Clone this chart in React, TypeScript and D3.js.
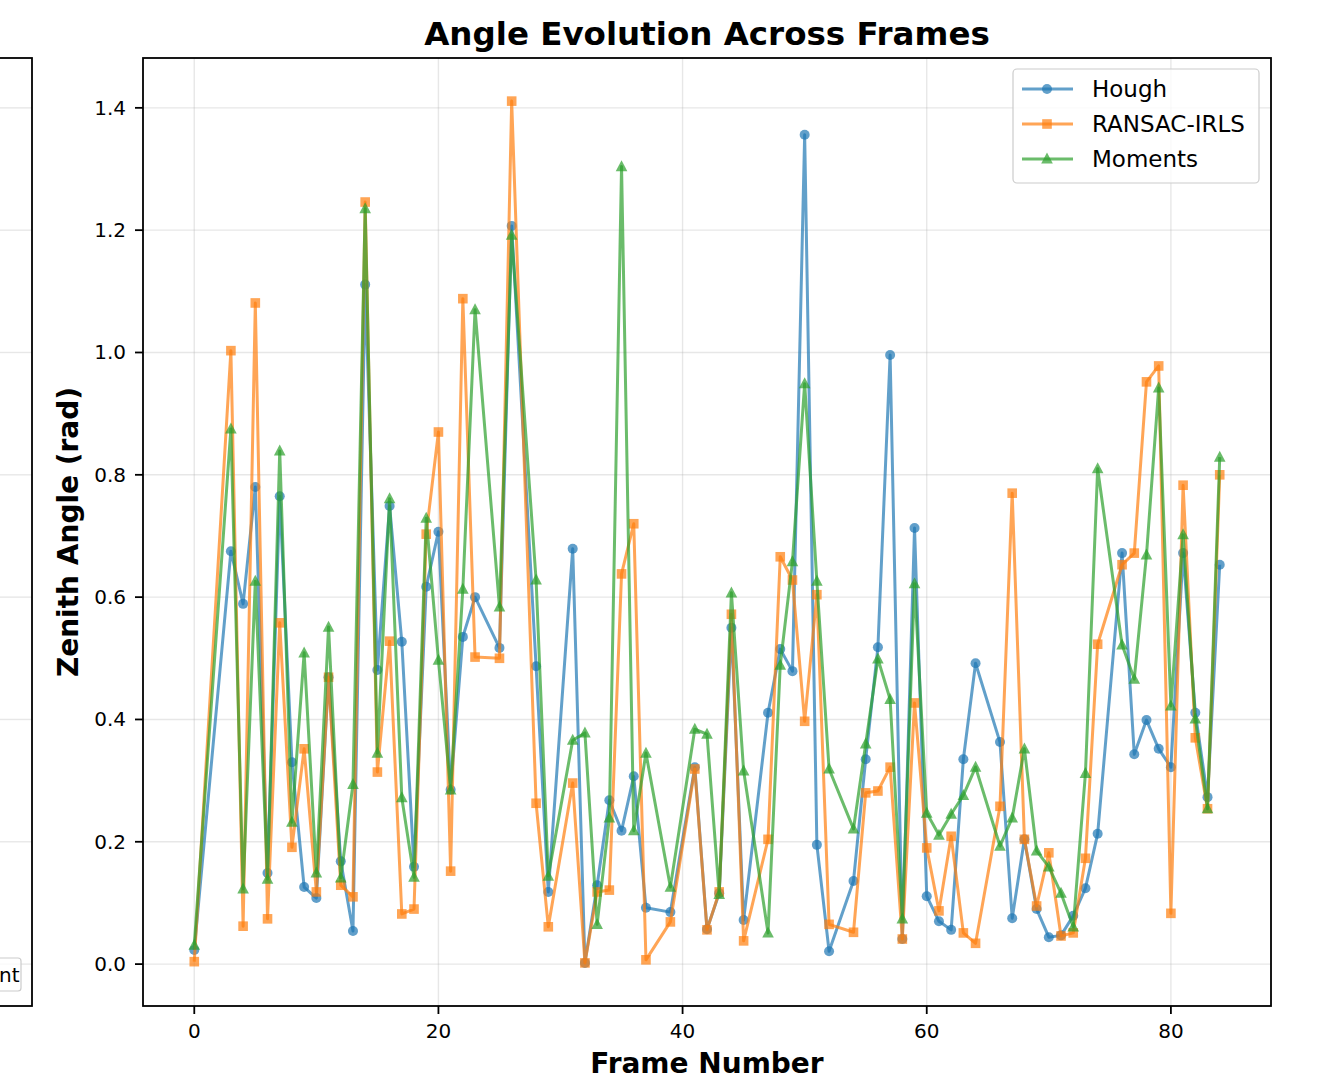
import * as d3 from 'd3'

// frames where a measurement exists
const frames = [
  0, 3, 4, 5, 6, 7, 8, 9, 10, 11, 12, 13, 14, 15, 16, 17, 18, 19, 20, 21, 22, 23, 25, 26,
  28, 29, 31, 32, 33, 34, 35, 36, 37, 39, 41, 42, 43, 44, 45, 47, 48, 49, 50, 51, 52,
  54, 55, 56, 57, 58, 59, 60, 61, 62, 63, 64, 66, 67, 68, 69, 70, 71, 72, 73, 74,
  76, 77, 78, 79, 80, 81, 82, 83, 84,
]

const hough = [
  0.023, 0.675, 0.589, 0.780, 0.149, 0.765, 0.330, 0.126, 0.108, 0.469, 0.168, 0.054, 1.111, 0.481,
  0.749, 0.527, 0.159, 0.617, 0.707, 0.285, 0.535, 0.600, 0.517, 1.207,
  0.487, 0.118, 0.679, 0.002, 0.129, 0.268, 0.218, 0.307, 0.092, 0.085, 0.322, 0.057, 0.116, 0.550,
  0.072, 0.411, 0.515, 0.479, 1.356, 0.195, 0.021,
  0.136, 0.335, 0.518, 0.996, 0.041, 0.713, 0.111, 0.070, 0.056, 0.335, 0.492, 0.363, 0.075, 0.204,
  0.090, 0.044, 0.047, 0.079, 0.124, 0.213,
  0.672, 0.343, 0.399, 0.352, 0.322, 0.672, 0.411, 0.273, 0.653,
]

const ransac = [
  0.004, 1.003, 0.062, 1.081, 0.074, 0.558, 0.191, 0.352, 0.118, 0.469, 0.129, 0.110, 1.246, 0.314,
  0.528, 0.082, 0.090, 0.703, 0.870, 0.152, 1.088, 0.502, 0.500, 1.411,
  0.263, 0.061, 0.296, 0.002, 0.118, 0.121, 0.638, 0.720, 0.007, 0.069, 0.319, 0.056, 0.118, 0.572,
  0.038, 0.204, 0.666, 0.628, 0.397, 0.604, 0.065,
  0.052, 0.280, 0.283, 0.322, 0.041, 0.427, 0.190, 0.087, 0.209, 0.051, 0.034, 0.258, 0.770, 0.204,
  0.095, 0.182, 0.046, 0.051, 0.173, 0.523,
  0.653, 0.672, 0.952, 0.978, 0.083, 0.783, 0.370, 0.254, 0.800,
]

const moments = [
  0.031, 0.875, 0.123, 0.626, 0.139, 0.839, 0.232, 0.509, 0.149, 0.551, 0.141, 0.294, 1.235, 0.345,
  0.761, 0.272, 0.142, 0.729, 0.497, 0.285, 0.613, 1.070, 0.584, 1.192,
  0.628, 0.144, 0.366, 0.378, 0.065, 0.239, 1.304, 0.218, 0.345, 0.126, 0.384, 0.376, 0.114, 0.607,
  0.316, 0.051, 0.489, 0.658, 0.949, 0.626, 0.319,
  0.221, 0.360, 0.499, 0.433, 0.074, 0.622, 0.247, 0.211, 0.245, 0.276, 0.322, 0.193, 0.239, 0.352,
  0.185, 0.159, 0.116, 0.061, 0.312, 0.810,
  0.522, 0.466, 0.669, 0.942, 0.422, 0.702, 0.401, 0.254, 0.829,
]

const xTicks = [0, 20, 40, 60, 80]
const yTicks = [0, 0.2, 0.4, 0.6, 0.8, 1.0, 1.2, 1.4]

const series = [
  { name: 'Hough', values: hough, color: '#1f77b4', marker: 'circle' },
  { name: 'RANSAC-IRLS', values: ransac, color: '#ff7f0e', marker: 'square' },
  { name: 'Moments', values: moments, color: '#2ca02c', marker: 'triangle' },
]

const W = 1317
const H = 1080
const plot = { left: 143, right: 1271, top: 58, bottom: 1006 }
const FONT = 'DejaVu Sans, sans-serif'
const GRID = '#b0b0b0'

function Marker({ type, x, y, color }: { type: string; x: number; y: number; color: string }) {
  if (type === 'circle') return <circle cx={x} cy={y} r={5} fill={color} />
  if (type === 'square') return <rect x={x - 4.8} y={y - 4.8} width={9.6} height={9.6} fill={color} />
  return <path d={`M${x},${y - 6.4}L${x + 5.8},${y + 4.6}L${x - 5.8},${y + 4.6}Z`} fill={color} />
}

export default function App() {
  const x = d3.scaleLinear().domain([-4.2, 88.2]).range([plot.left, plot.right])
  const y = d3.scaleLinear().domain([-0.0685, 1.4815]).range([plot.bottom, plot.top])
  const line = d3.line<number>().x((_, i) => x(frames[i])).y(d => y(d))

  return (
    <svg width={W} height={H} style={{ position: 'absolute', left: 0, top: 0, background: '#fff' }}
      fontFamily={FONT}>
      <rect width={W} height={H} fill="#fff" />

      {/* cut-off neighbouring panel on the left */}
      {yTicks.map(t => (
        <line key={'lg' + t} x1={0} x2={32} y1={y(t)} y2={y(t)} stroke={GRID} strokeOpacity={0.3} strokeWidth={1.4} />
      ))}
      <rect x={-10} y={plot.top} width={42} height={plot.bottom - plot.top} fill="none" stroke="#000" strokeWidth={1.8} />
      <rect x={-20} y={958} width={41} height={33} rx={3} fill="#fff" fillOpacity={0.8} stroke="#ccc" strokeWidth={1.2} />
      <text x={-1} y={975} dy="0.35em" fontSize={20}>nt</text>

      {/* title */}
      <text x={(plot.left + plot.right) / 2} y={45} textAnchor="middle" fontSize={32.5} fontWeight="bold">
        Angle Evolution Across Frames
      </text>

      {/* grid */}
      {xTicks.map(t => (
        <line key={'gx' + t} x1={x(t)} x2={x(t)} y1={plot.top} y2={plot.bottom} stroke={GRID} strokeOpacity={0.3} strokeWidth={1.4} />
      ))}
      {yTicks.map(t => (
        <line key={'gy' + t} x1={plot.left} x2={plot.right} y1={y(t)} y2={y(t)} stroke={GRID} strokeOpacity={0.3} strokeWidth={1.4} />
      ))}

      {/* series: line then markers, each with alpha 0.7 */}
      {series.map(s => (
        <g key={s.name}>
          <path d={line(s.values) ?? ''} fill="none" stroke={s.color} strokeOpacity={0.7} strokeWidth={3}
            strokeLinejoin="round" />
          <g opacity={0.7}>
            {s.values.map((v, i) => (
              <Marker key={i} type={s.marker} x={x(frames[i])} y={y(v)} color={s.color} />
            ))}
          </g>
        </g>
      ))}

      {/* frame */}
      <rect x={plot.left} y={plot.top} width={plot.right - plot.left} height={plot.bottom - plot.top}
        fill="none" stroke="#000" strokeWidth={1.8} />

      {/* x axis */}
      {xTicks.map(t => (
        <g key={'xt' + t}>
          <line x1={x(t)} x2={x(t)} y1={plot.bottom} y2={plot.bottom + 8} stroke="#000" strokeWidth={1.8} />
          <text x={x(t)} y={1038} textAnchor="middle" fontSize={20}>{t}</text>
        </g>
      ))}
      <text x={(plot.left + plot.right) / 2} y={1073} textAnchor="middle" fontSize={28} fontWeight="bold">
        Frame Number
      </text>

      {/* y axis */}
      {yTicks.map(t => (
        <g key={'yt' + t}>
          <line x1={plot.left - 8} x2={plot.left} y1={y(t)} y2={y(t)} stroke="#000" strokeWidth={1.8} />
          <text x={126} y={y(t)} dy="0.35em" textAnchor="end" fontSize={20}>{t.toFixed(1)}</text>
        </g>
      ))}
      <text transform={`translate(78,${(plot.top + plot.bottom) / 2}) rotate(-90)`} textAnchor="middle"
        fontSize={28} fontWeight="bold">
        Zenith Angle (rad)
      </text>

      {/* legend */}
      <g>
        <rect x={1013} y={69} width={246} height={114} rx={4} fill="#fff" fillOpacity={0.8} stroke="#ccc" strokeWidth={1.2} />
        {series.map((s, i) => {
          const ly = 89 + i * 35
          return (
            <g key={'lg' + s.name}>
              <line x1={1022} x2={1073} y1={ly} y2={ly} stroke={s.color} strokeOpacity={0.7} strokeWidth={3} />
              <g opacity={0.7}>
                <Marker type={s.marker} x={1047} y={ly} color={s.color} />
              </g>
              <text x={1092} y={ly} dy="0.35em" fontSize={23}>{s.name}</text>
            </g>
          )
        })}
      </g>
    </svg>
  )
}
